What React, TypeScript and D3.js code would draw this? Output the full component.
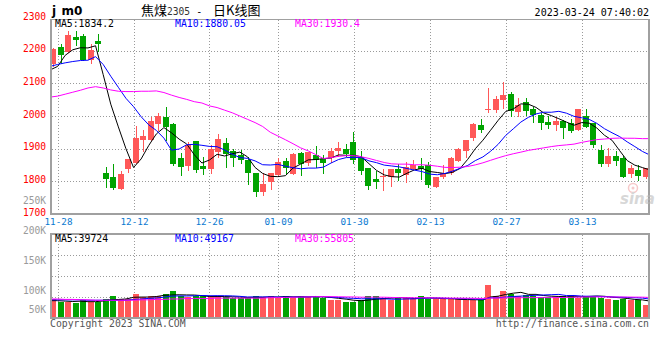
import React from 'react';
import * as d3 from 'd3';

const dates = [
  '11-25',
  '11-28', '11-29', '11-30', '12-01', '12-02',
  '12-05', '12-06', '12-07', '12-08', '12-09',
  '12-12', '12-13', '12-14', '12-15', '12-16',
  '12-19', '12-20', '12-21', '12-22', '12-23',
  '12-26', '12-27', '12-28', '12-29', '12-30',
  '01-03', '01-04', '01-05', '01-06',
  '01-09', '01-10', '01-11', '01-12', '01-13',
  '01-16', '01-17', '01-18', '01-19', '01-20',
  '01-30', '01-31', '02-01', '02-02', '02-03',
  '02-06', '02-07', '02-08', '02-09', '02-10',
  '02-13', '02-14', '02-15', '02-16', '02-17',
  '02-20', '02-21', '02-22', '02-23', '02-24',
  '02-27', '02-28', '03-01', '03-02', '03-03',
  '03-06', '03-07', '03-08', '03-09', '03-10',
  '03-13', '03-14', '03-15', '03-16', '03-17',
  '03-20', '03-21', '03-22', '03-23', '03-24',
];

const opens = [
  2158, 2210, 2196, 2243, 2245, 2173, 2230, 1827, 1814, 1778,
  1838, 1855, 1927, 1927, 1976, 1996, 1976, 1872, 1847, 1923,
  1848, 1839, 1891, 1917, 1893, 1882, 1866, 1826, 1768, 1799,
  1820, 1862, 1823, 1887, 1855, 1880, 1867, 1870, 1894, 1899,
  1922, 1876, 1842, 1808, 1813, 1812, 1839, 1820, 1838, 1848,
  1850, 1784, 1813, 1827, 1862, 1894, 1933, 1973, 2018, 2018,
  2049, 2067, 2013, 2044, 2022, 2003, 1982, 1974, 1985, 1980,
  1957, 2000, 1978, 1896, 1853, 1878, 1871, 1822, 1835, 1812,
];
const highs = [
  2207, 2222, 2262, 2260, 2251, 2220, 2251, 1845, 1853, 1833,
  1868, 1968, 1957, 1998, 2008, 2027, 1978, 1886, 1920, 1923,
  1876, 1911, 1945, 1933, 1900, 1896, 1876, 1826, 1825, 1826,
  1871, 1871, 1888, 1890, 1891, 1908, 1880, 1901, 1920, 1914,
  1952, 1894, 1842, 1832, 1837, 1838, 1852, 1859, 1865, 1873,
  1858, 1813, 1850, 1876, 1903, 1927, 1978, 1992, 2085, 2062,
  2103, 2075, 2054, 2054, 2029, 2008, 2000, 1996, 1988, 1990,
  2021, 2021, 1978, 1911, 1901, 1894, 1878, 1850, 1850, 1842,
];
const lows = [
  2152, 2161, 2196, 2217, 2171, 2163, 2200, 1784, 1777, 1778,
  1830, 1855, 1894, 1927, 1957, 1927, 1851, 1820, 1835, 1830,
  1823, 1827, 1876, 1845, 1848, 1855, 1791, 1756, 1758, 1776,
  1820, 1824, 1823, 1820, 1850, 1845, 1827, 1860, 1878, 1878,
  1857, 1823, 1778, 1779, 1772, 1787, 1805, 1799, 1838, 1807,
  1784, 1782, 1810, 1821, 1862, 1876, 1927, 1951, 2013, 2013,
  2024, 2000, 2000, 2003, 1981, 1960, 1964, 1957, 1934, 1952,
  1957, 1965, 1906, 1847, 1847, 1850, 1812, 1813, 1804, 1809,
];
const closes = [
  2205, 2188, 2248, 2234, 2171, 2202, 2221, 1808, 1780, 1823,
  1868, 1933, 1939, 1986, 2000, 1965, 1853, 1843, 1911, 1835,
  1839, 1899, 1930, 1885, 1870, 1864, 1827, 1767, 1793, 1826,
  1859, 1842, 1884, 1853, 1891, 1864, 1856, 1893, 1901, 1884,
  1865, 1833, 1787, 1798, 1816, 1838, 1827, 1845, 1850, 1839,
  1789, 1813, 1827, 1870, 1900, 1927, 1976, 1957, 2021, 2052,
  2064, 2015, 2034, 2016, 2003, 1980, 1974, 1986, 1964, 1955,
  2021, 1965, 1912, 1853, 1878, 1863, 1812, 1842, 1816, 1842,
];
const volumes = [
  45000, 39000, 39000, 37000, 44000, 39000, 39000, 47000, 52000, 47000,
  45000, 59000, 50000, 52000, 53000, 59000, 64000, 52000, 50000, 52000,
  52000, 53000, 52000, 50000, 49000, 49000, 48000, 54000, 50000, 53000,
  48000, 54000, 50000, 53000, 50000, 53000, 49000, 43000, 43000, 40000,
  40000, 43000, 52000, 52000, 49000, 44000, 49000, 49000, 45000, 54000,
  45000, 45000, 45000, 45000, 45000, 43000, 43000, 43000, 80000, 54000,
  64000, 58000, 53000, 56000, 54000, 50000, 50000, 50000, 52000, 56000,
  49000, 54000, 54000, 49000, 45000, 43000, 45000, 43000, 43000, 31000,
];

// moving-average values before the window is full
const priceMa5Lead = [2141, 2152, 2186, 2203];
const priceMa10Lead = [2152, 2158, 2163, 2167, 2170, 2171, 2182, 2158, 2122];
const priceMa30Lead = [
  2058, 2061, 2067, 2073, 2079, 2086, 2090, 2086, 2080, 2076,
  2075, 2075, 2076, 2076, 2077, 2072, 2064, 2057, 2051, 2044,
  2040, 2031, 2026, 2018, 2010, 2000, 1990, 1980, 1968,
];
const volMa5Lead = [42000, 42000, 41000, 40000];
const volMa10Lead = [44000, 44000, 44000, 44000, 44000, 43000, 43000, 43000, 43000];
const volMa30Lead = [
  46000, 46000, 45000, 45000, 44000, 44000, 43000, 43000, 43000, 43000,
  43000, 43000, 44000, 44000, 45000, 45000, 46000, 46000, 47000, 47000,
  47000, 47000, 48000, 48000, 48000, 48000, 48000, 48000, 48000,
];

const priceTicks = [2300, 2200, 2100, 2000, 1900, 1800, 1700];
const priceGrid = [2200, 2100, 2000, 1900, 1800];
const volTicks = [250000, 200000, 150000, 100000, 50000];
const volGrid = [150000, 100000, 50000];
const dateTicks = ['11-28', '12-12', '12-26', '01-09', '01-30', '02-13', '02-27', '03-13'];

const priceMaLabels = ['MA5:1834.2', 'MA10:1880.05', 'MA30:1930.4'];
const volMaLabels = ['MA5:39724', 'MA10:49167', 'MA30:55805'];

const RED = '#ff5858';
const GREEN = '#00a300';
const MA_COLORS = ['#000000', '#0000ff', '#ff00ff'];
const BORDER = '#a0a0a0';
const GRID = '#9a9a9a';
const MONO = '"DejaVu Sans Mono", "Liberation Mono", monospace';

function movingAverage(values: number[], n: number, lead: number[]): number[] {
  return values.map((_, i) =>
    i < n - 1 ? lead[i] : (d3.mean(values.slice(i - n + 1, i + 1)) as number)
  );
}

export default function App() {
  const L = 50, R = 650;
  const xBand = d3.scaleBand<string>().domain(dates).range([L, R]).padding(0);
  const bodyW = Math.round(xBand.step() * 0.8);
  const xLine = d3.scaleLinear().domain([0, dates.length - 1]).range([L, R]);
  const yP = d3.scaleLinear().domain([1700, 2300]).range([214, 18.1]);
  const yV = d3.scaleLinear().domain([0, 200000]).range([318.3, 234.3]);
  const yVLabel = d3.scaleLinear().domain([0, 250000]).range([354, 204]);

  const pMas = [
    movingAverage(closes, 5, priceMa5Lead),
    movingAverage(closes, 10, priceMa10Lead),
    movingAverage(closes, 30, priceMa30Lead),
  ];
  const vMas = [
    movingAverage(volumes, 5, volMa5Lead),
    movingAverage(volumes, 10, volMa10Lead),
    movingAverage(volumes, 30, volMa30Lead),
  ];
  const pLine = d3.line<number>().x((_, i) => xLine(i)).y((d) => yP(d));
  const vLine = d3.line<number>().x((_, i) => xLine(i)).y((d) => yV(d));

  const tickX = dateTicks.map((t) => Math.round(xLine(dates.indexOf(t))) + 0.5);

  return (
    <svg
      width={660}
      height={360}
      style={{ position: 'fixed', left: 0, top: 0, background: '#fff' }}
    >
      <rect x={0} y={0} width={660} height={360} fill="#fff" />

      {/* header */}
      <text
        x="52 61.5 74"
        y={15}
        fontFamily='"DejaVu Sans", sans-serif'
        fontWeight="bold"
        fontSize={12}
        fill="#000"
      >
        jm0
      </text>
      <text x={141} y={15} fontSize={13} fill="#000" fontFamily='"Noto Sans CJK SC", sans-serif'>
        <tspan>焦煤</tspan>
        <tspan fontFamily={MONO} fontSize={9.6} fill="#333">2305</tspan>
        <tspan fontFamily={MONO} fontSize={10}> - </tspan>
        <tspan x={213}>日K线图</tspan>
      </text>
      <text x={649} y={15.5} textAnchor="end" fontFamily={MONO} fontSize={10} fill="#000">
        2023-03-24 07:40:02
      </text>

      {/* price grid */}
      <g stroke={GRID} strokeWidth={1} strokeDasharray="1,2" shapeRendering="crispEdges">
        {priceGrid.map((v) => (
          <line key={'pg' + v} x1={L + 2} x2={R - 2} y1={Math.round(yP(v)) + 0.5} y2={Math.round(yP(v)) + 0.5} />
        ))}
        {tickX.map((x, k) => (
          <line key={'pv' + k} x1={x} x2={x} y1={20} y2={212} />
        ))}
        {volGrid.map((v) => (
          <line key={'vg' + v} x1={L + 2} x2={R - 2} y1={Math.round(yV(v)) + 0.5} y2={Math.round(yV(v)) + 0.5} />
        ))}
        {tickX.map((x, k) => (
          <line key={'vv' + k} x1={x} x2={x} y1={235} y2={317} />
        ))}
      </g>

      {/* candles */}
      <g shapeRendering="crispEdges">
        {dates.map((d, i) => {
          const up = closes[i] >= opens[i];
          const c = up ? RED : GREEN;
          const x0 = Math.round(xBand(d) as number);
          const top = Math.round(yP(Math.max(opens[i], closes[i])));
          const bot = Math.round(yP(Math.min(opens[i], closes[i])));
          return (
            <g key={'c' + i}>
              <line x1={x0 + 3.5} x2={x0 + 3.5} y1={Math.round(yP(highs[i]))} y2={Math.round(yP(lows[i])) + 1} stroke={c} strokeWidth={1} />
              <rect x={x0} y={top} width={bodyW} height={Math.max(1, bot - top)} fill={c} />
            </g>
          );
        })}
      </g>

      {/* price MAs */}
      {pMas.map((m, k) => (
        <path key={'pm' + k} d={pLine(m) as string} fill="none" stroke={MA_COLORS[k]} strokeWidth={1} />
      ))}

      {/* volume bars */}
      <g shapeRendering="crispEdges">
        {dates.map((d, i) => {
          const up = closes[i] >= opens[i];
          const x0 = Math.round(xBand(d) as number);
          const y = Math.round(yV(volumes[i]));
          return <rect key={'v' + i} x={x0} y={y} width={bodyW} height={318 - y} fill={up ? RED : GREEN} />;
        })}
      </g>
      {vMas.map((m, k) => (
        <path key={'vm' + k} d={vLine(m) as string} fill="none" stroke={MA_COLORS[k]} strokeWidth={1} />
      ))}

      {/* borders */}
      <g stroke={BORDER} shapeRendering="crispEdges">
        <line x1={L} x2={R} y1={19.5} y2={19.5} strokeWidth={1} />
        <line x1={L} x2={R} y1={214} y2={214} strokeWidth={2} />
        <line x1={51} x2={51} y1={19} y2={215} strokeWidth={2} />
        <line x1={649} x2={649} y1={19} y2={215} strokeWidth={2} />
        <line x1={L} x2={R} y1={234} y2={234} strokeWidth={2} />
        <line x1={L} x2={R} y1={318} y2={318} strokeWidth={2} />
        <line x1={51} x2={51} y1={233} y2={319} strokeWidth={2} />
        <line x1={649} x2={649} y1={233} y2={319} strokeWidth={2} />
      </g>

      {/* price axis labels */}
      {priceTicks.map((v) => (
        <text key={'pt' + v} x={46} y={yP(v) + 1.5} textAnchor="end" fontFamily={MONO} fontSize={9.6} fill="#ff0000">
          {v}
        </text>
      ))}
      {/* volume axis labels */}
      {volTicks.map((v) => (
        <text
          key={'vt' + v}
          x={46}
          y={Math.min(313.3, yVLabel(v))}
          textAnchor="end"
          fontFamily={MONO}
          fontSize={9.6}
          fill="#9a9a9a"
        >
          {v / 1000 + 'K'}
        </text>
      ))}

      {/* date labels */}
      {dateTicks.map((t, k) => (
        <text key={'dt' + t} x={tickX[k]} y={225} textAnchor="middle" fontFamily={MONO} fontSize={9.3} fill="#0a79d1">
          {t}
        </text>
      ))}

      {/* MA labels */}
      {priceMaLabels.map((s, k) => (
        <text key={'pl' + k} x={55 + 120 * k} y={26.5} fontFamily={MONO} fontSize={9.8} fill={MA_COLORS[k]}>
          {s}
        </text>
      ))}
      {volMaLabels.map((s, k) => (
        <text key={'vl' + k} x={55 + 120 * k} y={241.5} fontFamily={MONO} fontSize={9.8} fill={MA_COLORS[k]}>
          {s}
        </text>
      ))}

      {/* watermark */}
      <g opacity={0.55}>
        <circle cx={633} cy={188} r={4.5} fill="none" stroke="#f0a0a0" strokeWidth={1.5} />
        <circle cx={633} cy={188} r={1.5} fill="#f0a0a0" />
        <text x={620} y={204} fontFamily='"DejaVu Sans", sans-serif' fontStyle="italic" fontWeight="bold" fontSize={15} fill="#b8b8b8">
          sina
        </text>
      </g>

      {/* footer */}
      <text x={50} y={326.5} fontFamily={MONO} fontSize={9.8} fill="#555">
        Copyright 2023 SINA.COM
      </text>
      <text x={649} y={326.5} textAnchor="end" fontFamily={MONO} fontSize={9.8} fill="#555">
        http://finance.sina.com.cn
      </text>
    </svg>
  );
}
